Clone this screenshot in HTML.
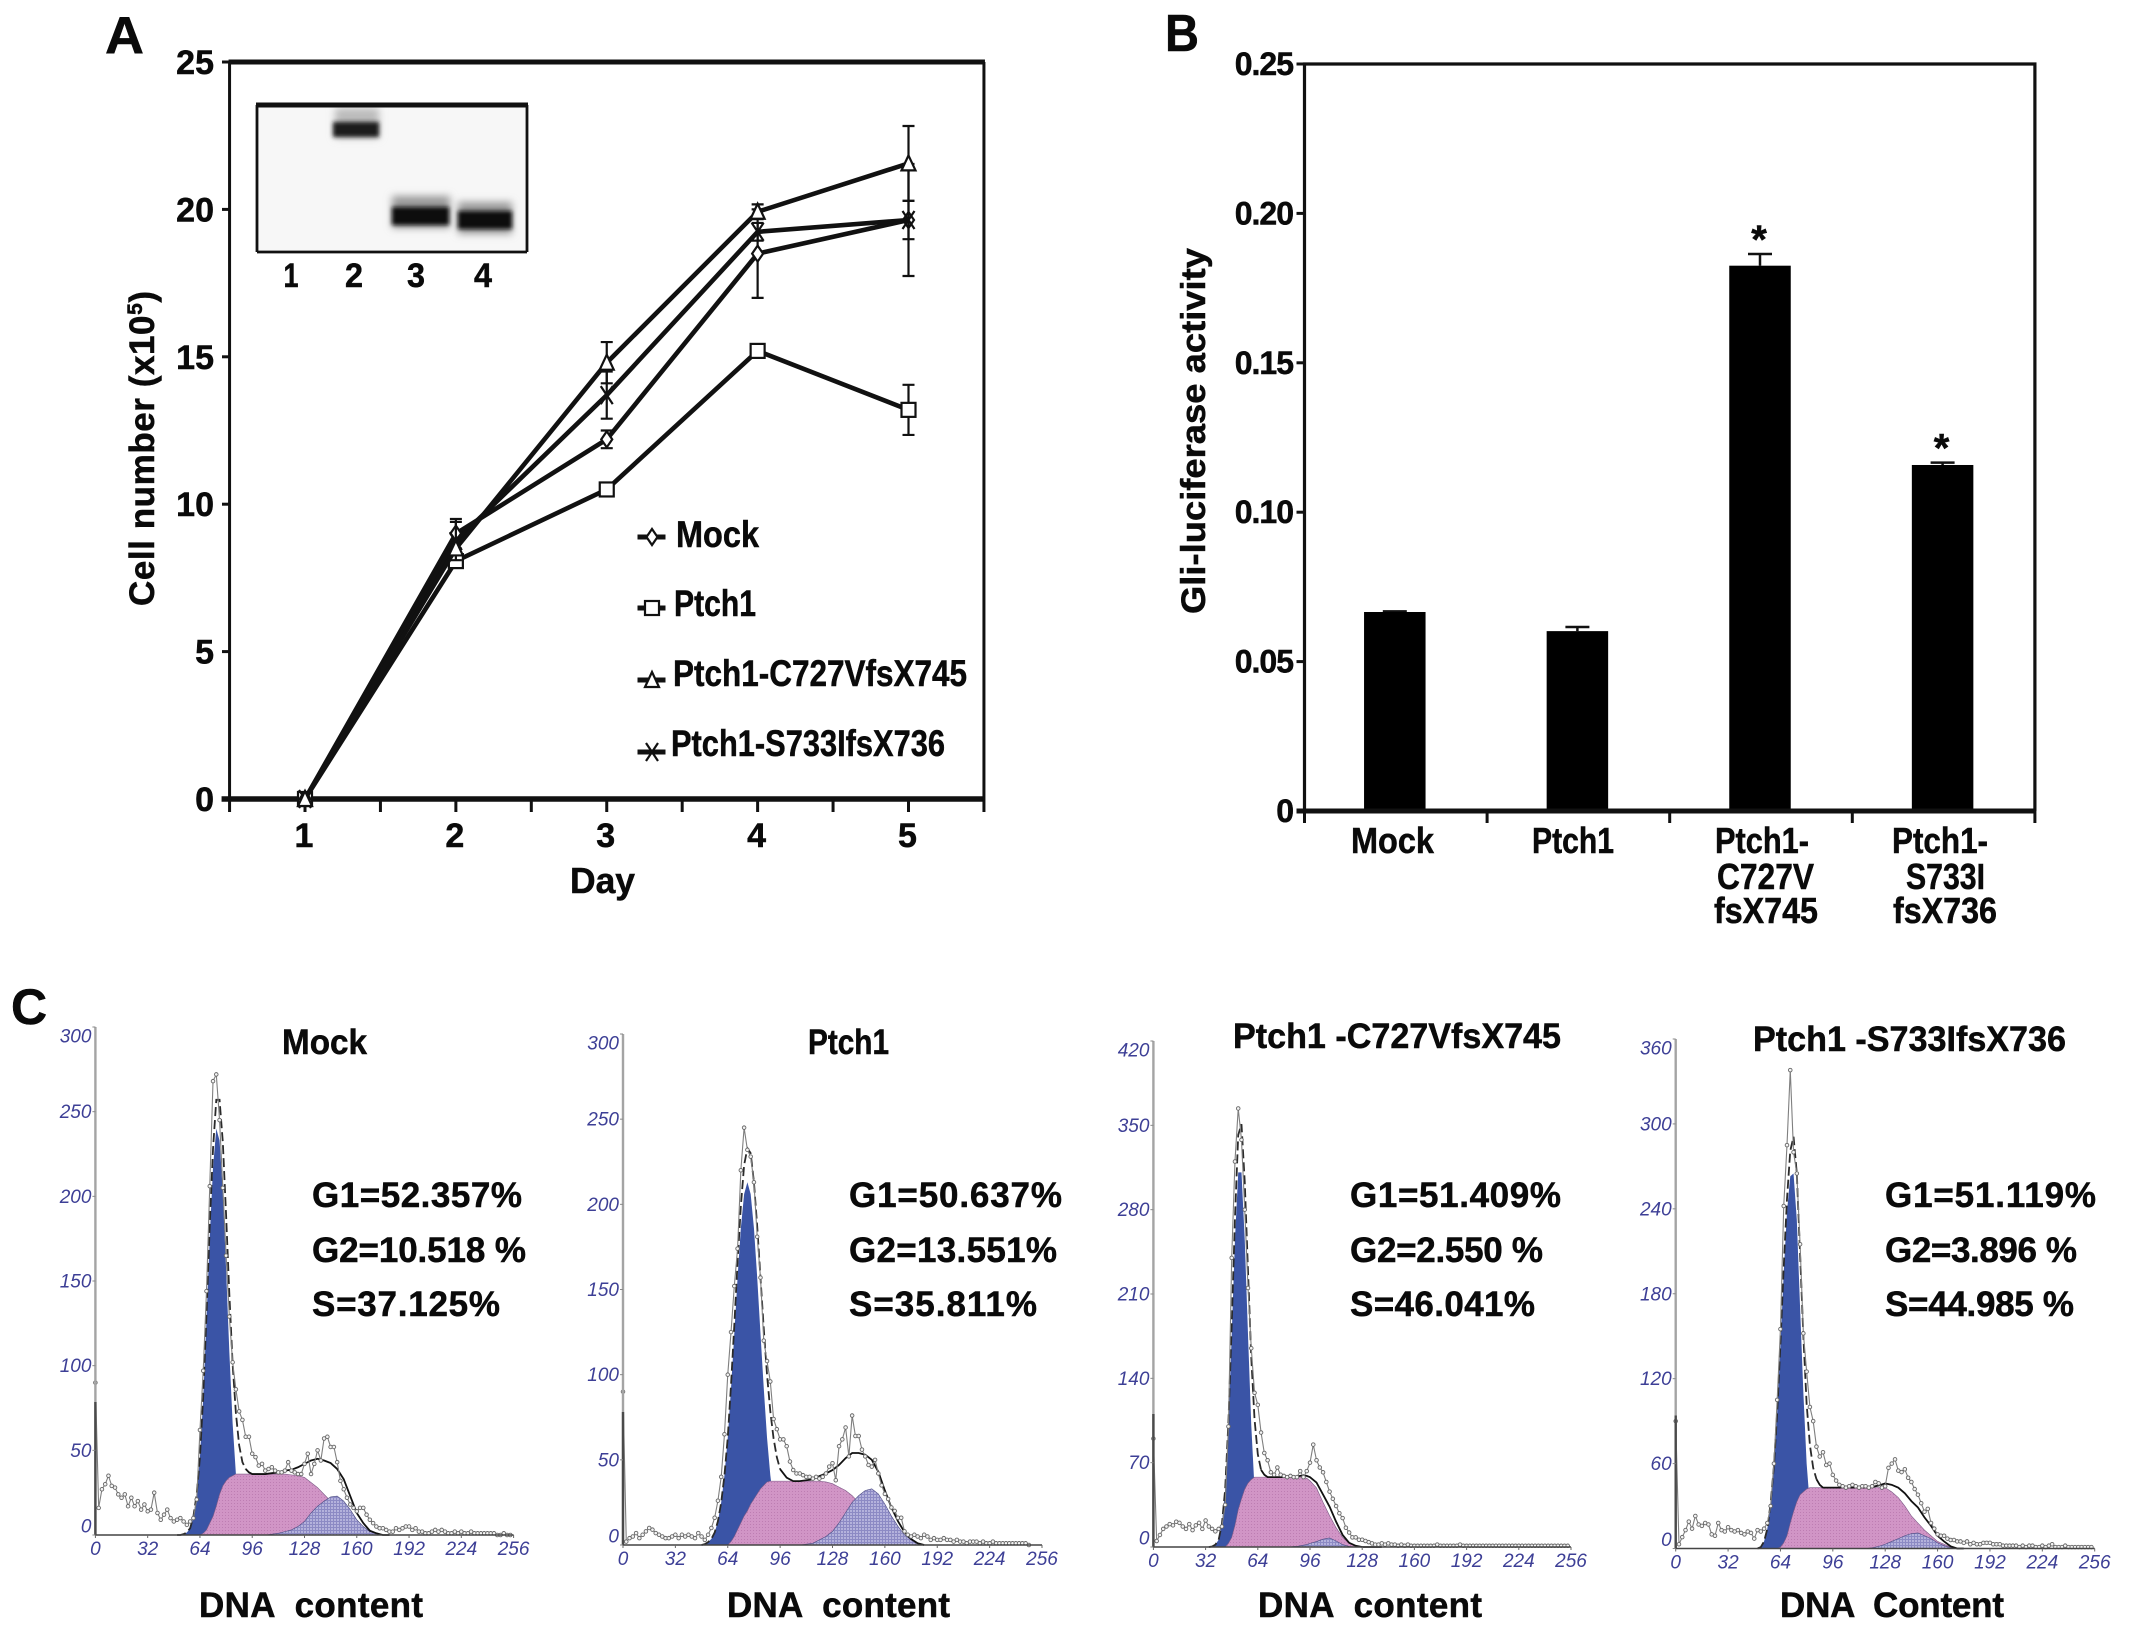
<!DOCTYPE html>
<html lang="en">
<head>
<meta charset="utf-8">
<title>Ptch1 cell growth, Gli-luciferase activity and cell cycle</title>
<style>
html,body{margin:0;padding:0;background:#fff}
svg{display:block}
text{font-family:"Liberation Sans",sans-serif;fill:#0a0a0a}
.b,text[font-weight="700"]{font-weight:700;stroke:#0a0a0a;stroke-width:.5}
.h{font-style:italic;fill:#3d3f96;font-size:19px}
</style>
</head>
<body>
<svg id="fig" xmlns="http://www.w3.org/2000/svg" width="2150" height="1630" viewBox="0 0 2150 1630">
<defs>
<filter id="gel-blur" x="-30%" y="-60%" width="160%" height="220%"><feGaussianBlur stdDeviation="2.2"/></filter>
<filter id="gel-halo" x="-30%" y="-80%" width="160%" height="260%"><feGaussianBlur stdDeviation="4"/></filter>
<clipPath id="gel-clip"><rect x="257" y="103" width="270" height="149"/></clipPath>
<pattern id="g2-hatch" width="3" height="3" patternUnits="userSpaceOnUse"><rect width="3" height="3" fill="#b4b2dc"/><path d="M0 .5H3M.5 0V3" stroke="#8c8ac4" stroke-width="1"/></pattern>
<pattern id="s-dots" width="3" height="3" patternUnits="userSpaceOnUse"><rect width="3" height="3" fill="#d195c6"/><rect width="1" height="1" fill="#bd7db2"/></pattern>
</defs>
<rect width="2150" height="1630" fill="#fff"/>

<text class="b" x="105" y="53" font-size="52" textLength="39" lengthAdjust="spacingAndGlyphs">A</text>
<text class="b" x="1165" y="51" font-size="52" textLength="34" lengthAdjust="spacingAndGlyphs">B</text>
<text class="b" x="11" y="1024" font-size="50">C</text>

<g id="panelA">
<text class="b" transform="translate(154 606) rotate(-90)" font-size="35" textLength="315">Cell number (x10<tspan font-size="21" dy="-12">5</tspan><tspan dy="12">)</tspan></text>
<text class="b" x="570" y="893" font-size="36" textLength="65" lengthAdjust="spacingAndGlyphs">Day</text>
<g>
<rect x="257" y="103" width="270" height="149" fill="#f7f7f7"/>
<g clip-path="url(#gel-clip)">
<rect x="335" y="108" width="44" height="30" fill="#bbb" filter="url(#gel-halo)"/>
<rect x="333" y="122" width="46" height="15" fill="#1c1c1c" filter="url(#gel-blur)"/>
<rect x="392" y="196" width="58" height="32" fill="#999" filter="url(#gel-halo)"/>
<rect x="392" y="207" width="57" height="18" fill="#0d0d0d" filter="url(#gel-blur)"/>
<rect x="458" y="202" width="54" height="32" fill="#999" filter="url(#gel-halo)"/>
<rect x="458" y="211" width="54" height="18" fill="#0d0d0d" filter="url(#gel-blur)"/>
</g>
<path d="M257 252V105M527 105V252M257 252H527" fill="none" stroke="#111" stroke-width="2.8"/>
<path d="M256 105H528" fill="none" stroke="#111" stroke-width="5"/>
<text class="b" x="291" y="287" font-size="34" text-anchor="middle" textLength="15" lengthAdjust="spacingAndGlyphs">1</text>
<text class="b" x="354" y="287" font-size="34" text-anchor="middle" textLength="18" lengthAdjust="spacingAndGlyphs">2</text>
<text class="b" x="416" y="287" font-size="34" text-anchor="middle" textLength="18" lengthAdjust="spacingAndGlyphs">3</text>
<text class="b" x="483" y="287" font-size="34" text-anchor="middle" textLength="18" lengthAdjust="spacingAndGlyphs">4</text>
</g>
<g>
<text class="b" x="676" y="547" font-size="37" textLength="83" lengthAdjust="spacingAndGlyphs">Mock</text>
<text class="b" x="674" y="616" font-size="37" textLength="82" lengthAdjust="spacingAndGlyphs">Ptch1</text>
<text class="b" x="673" y="686" font-size="37" textLength="294" lengthAdjust="spacingAndGlyphs">Ptch1-C727VfsX745</text>
<text class="b" x="671" y="756" font-size="37" textLength="274" lengthAdjust="spacingAndGlyphs">Ptch1-S733IfsX736</text>
</g>
</g>

<g id="panelB">
<text class="b" transform="translate(1205 614) rotate(-90)" font-size="34" textLength="366" lengthAdjust="spacingAndGlyphs">Gli-luciferase activity</text>
<text class="b" x="1351" y="853" font-size="36" textLength="83" lengthAdjust="spacingAndGlyphs">Mock</text>
<text class="b" x="1532" y="853" font-size="36" textLength="82" lengthAdjust="spacingAndGlyphs">Ptch1</text>
<g>
<text class="b" x="1715" y="853" font-size="36" textLength="94" lengthAdjust="spacingAndGlyphs">Ptch1-</text>
<text class="b" x="1717" y="889" font-size="36" textLength="97" lengthAdjust="spacingAndGlyphs">C727V</text>
<text class="b" x="1714" y="923" font-size="36" textLength="104" lengthAdjust="spacingAndGlyphs">fsX745</text>
</g>
<g>
<text class="b" x="1892" y="853" font-size="36" textLength="96" lengthAdjust="spacingAndGlyphs">Ptch1-</text>
<text class="b" x="1906" y="889" font-size="36" textLength="79" lengthAdjust="spacingAndGlyphs">S733I</text>
<text class="b" x="1893" y="923" font-size="36" textLength="104" lengthAdjust="spacingAndGlyphs">fsX736</text>
</g>
</g>

<g id="panelC"></g>
</svg>

<script>
/* ---------- Panel A data ---------- */
const dayCategories = [1, 2, 3, 4, 5];
const dayMinorTicks = [0.5, 1.5, 2.5, 3.5, 4.5, 5.5];
const cellTickLabels = [0, 5, 10, 15, 20, 25];
const mockCells = [0, 9.0, 12.2, 18.5, 19.64];
const ptch1Cells = [0, 8.07, 10.5, 15.2, 13.2];
const c727Cells = [0, 8.5, 14.8, 19.92, 21.56];
const s733Cells = [0, 8.75, 13.7, 19.24, 19.64];
const mockCellErr = [0, 0.5, 0.3, 1.5, 1.9];
const ptch1CellErr = [0, 0.1, 0.1, 0.1, 0.85];
const c727CellErr = [0, 0.2, 0.7, 0.25, 1.27];
const s733CellErr = [0, 0.65, 0.8, 0.3, 0.65];

/* ---------- Panel B data ---------- */
const lucCategories = ['Mock', 'Ptch1', 'Ptch1-C727VfsX745', 'Ptch1-S733IfsX736'];
const lucValues = [0.0666, 0.0602, 0.1825, 0.1158];
const lucErrors = [0.0002, 0.0014, 0.0039, 0.0008];
const lucSignificant = [false, false, true, true];
const lucTickLabels = ['0', '0.05', '0.10', '0.15', '0.20', '0.25'];
const lucTickValues = [0, 0.05, 0.10, 0.15, 0.20, 0.25];

/* ---------- Panel C data ---------- */
const channelTicks = [0, 32, 64, 96, 128, 160, 192, 224, 256];
const mockCountTicks = [0, 50, 100, 150, 200, 250, 300];
const ptch1CountTicks = [0, 50, 100, 150, 200, 250, 300];
const c727CountTicks = [0, 70, 140, 210, 280, 350, 420];
const s733CountTicks = [0, 60, 120, 180, 240, 300, 360];

/* raw histogram counts, one per every second channel starting at channel 0 */
const mockCounts = [90,16,27,30,35,29,28,24,22,24,17,22,17,20,15,18,14,15,25,13,9,12,15,10,8,9,10,8,6,8,10,21,62,97,144,206,268,272,245,205,165,129,102,86,73,68,58,58,48,46,41,42,38,39,40,38,37,37,38,43,38,37,36,36,42,48,36,42,50,44,57,58,52,52,43,32,27,22,18,16,14,16,16,12,9,7,5,4,4,3,2,2,4,3,4,5,5,3,4,2,2,1,1,2,3,2,3,2,1,1,2,1,2,1,1,2,1,1,1,1,1,1,1,0,0,1,0,0];
const ptch1Counts = [90,2,4,5,7,4,6,8,10,9,7,6,5,4,4,5,6,4,6,5,6,5,4,7,5,3,6,10,16,26,40,65,100,125,152,174,220,245,232,228,213,181,157,120,108,96,74,68,62,62,58,49,44,42,42,41,40,40,39,40,39,40,42,46,48,38,58,62,69,52,76,64,64,56,52,47,46,50,42,35,30,27,22,20,16,16,8,6,5,6,5,4,6,5,3,4,3,3,4,3,3,2,3,2,2,1,2,2,2,1,2,1,1,2,1,1,1,1,1,1,1,1,1,1,0];
const c727Counts = [90,5,10,15,17,19,18,21,20,17,15,19,14,18,20,15,22,17,15,13,15,17,35,100,240,320,364,338,280,215,165,128,118,95,78,72,62,60,66,60,59,58,59,58,58,63,58,63,70,85,72,66,62,54,46,40,34,28,24,16,12,8,8,6,6,5,4,3,2,2,3,2,3,2,2,1,2,1,2,1,1,1,1,1,1,1,1,2,1,1,1,1,1,1,2,1,1,1,1,1,1,1,1,1,1,1,1,1,1,1,1,1,1,1,1,1,1,1,1,1,1,1,1,1,1,1,1,1];
const s733Counts = [90,3,8,13,19,14,23,17,16,18,17,10,9,18,13,12,15,13,12,13,11,10,12,11,7,13,12,14,18,30,60,105,155,242,285,338,280,265,215,152,125,100,90,72,65,68,59,60,52,48,45,44,43,44,45,44,43,44,44,43,44,47,46,43,44,57,60,63,55,54,56,50,47,42,38,32,26,28,18,14,10,9,9,7,6,6,5,5,4,5,3,4,3,3,4,4,4,3,3,3,2,2,2,2,2,1,2,1,2,2,1,1,2,1,2,3,1,1,1,2,1,1,1,1,1,1,1,1];

/* fitted components */
const mockFitChannels = [50,52,54,56,58,60,62,64,66,68,70,72,74,76,78,80,82,84,86,88,90,92,94,96,100,104,108,112,116,120,124,128,132,136,140,144,148,152,156,160,164,168,172,176,180];
const mockG1 = [0,0,.5,1.5,4,11,24,46,81,127,176,217,240,233,203,157,108,66,36,17,7,3,1,0,0,0,0,0,0,0,0,0,0,0,0,0,0,0,0,0,0,0,0,0,0];
const mockS = [0,0,0,0,0,0,0,0,1,3,7,11,17,24,29,32,34,35,36,36,36,36,36,36,36,36,36,36,36,35.5,35,34,31,28,24,20,16,13,8,4,2,.5,0,0,0];
const mockG2 = [0,0,0,0,0,0,0,0,0,0,0,0,0,0,0,0,0,0,0,0,0,0,0,0,0,0,.5,1,2,3,5,8,13,17,20,22.5,23,20,15,9,5,2,1,0,0];

const ptch1FitChannels = [48,50,52,54,56,58,60,62,64,66,68,70,72,74,76,78,80,82,84,86,88,90,92,94,96,100,104,108,112,116,120,124,128,132,136,140,144,148,152,156,160,164,168,172,176,180,184];
const ptch1G1 = [0,.5,1.7,3.6,7.3,14,25,41,63,92,124,157,186,206,213,206,186,157,124,92,63,41,25,14,7,2,0,0,0,0,0,0,0,0,0,0,0,0,0,0,0,0,0,0,0,0,0];
const ptch1S = [0,0,0,0,0,0,0,0,0,2,5,9,13,17,20,24,27,30,33,35,37,37.5,37.5,37.5,37.5,37.5,37.5,37.5,37.5,37.5,37.5,37,36,34,32,29,25,21,17,13,8,5,3,1.5,.5,0,0];
const ptch1G2 = [0,0,0,0,0,0,0,0,0,0,0,0,0,0,0,0,0,0,0,0,0,0,0,0,0,0,0,0,.5,1,3,5,8,13,19,25,29,32,33,30,24,17,11,6,3,1,0];

const c727FitChannels = [34,36,38,40,42,44,46,48,50,52,54,56,58,60,62,64,66,68,70,72,74,76,78,80,82,84,86,88,90,92,94,96,100,104,108,112,116,120,124,128,132,136,140];
const c727G1 = [0,.4,2,6,19,48,101,176,255,311,311,255,176,101,48,19,6,2,0,0,0,0,0,0,0,0,0,0,0,0,0,0,0,0,0,0,0,0,0,0,0,0,0];
const c727S = [0,0,0,0,0,0,3,8,18,31,40,48,53,56,58,58,58,58,58,58,58,58,58,58,58,58,58,58,58,58,57,55,49,37,26,16,8,3,1,0,0,0,0];
const c727G2 = [0,0,0,0,0,0,0,0,0,0,0,0,0,0,0,0,0,0,0,0,0,0,0,0,0,0,.5,.5,1,1.5,2,3,4.5,6.5,7.5,5,2,.5,0,0,0,0,0];

const s733FitChannels = [50,52,54,56,58,60,62,64,66,68,70,72,74,76,78,80,82,84,86,88,90,92,94,96,100,104,108,112,116,120,124,128,132,136,140,144,148,152,156,160,164,168,172,176];
const s733G1 = [0,1,5,14,32,58,96,144,195,238,263,265,232,170,110,60,30,14,6,2,0,0,0,0,0,0,0,0,0,0,0,0,0,0,0,0,0,0,0,0,0,0,0,0];
const s733S = [0,0,0,0,0,0,0,1,4,9,18,26,33,38,40,42,43,43,43,43,43,43,43,43,43,43,43,43,43,43,43,43,40,36,30,23,18,13,9,5,3,1,0,0];
const s733G2 = [0,0,0,0,0,0,0,0,0,0,0,0,0,0,0,0,0,0,0,0,0,0,0,0,0,0,0,0,0,.5,1.5,3,5,7,9,10.5,11,9,7,4,2,.5,0,0];

/* ---------- helpers ---------- */
const NS = 'http://www.w3.org/2000/svg';
function mk(parent, tag, attrs, txt) {
  const el = document.createElementNS(NS, tag);
  for (const k in attrs) el.setAttribute(k, attrs[k]);
  if (txt !== undefined) el.textContent = txt;
  parent.appendChild(el);
  return el;
}
function linear(d0, d1, r0, r1) {
  return v => r0 + (v - d0) / (d1 - d0) * (r1 - r0);
}

function drawMarker(parent, shape, x, y, sw) {
  let m;
  if (shape === 'square') {
    m = mk(parent, 'rect', {x: x - 7, y: y - 7, width: 14, height: 14, fill: '#fff', stroke: '#111', 'stroke-width': sw});
  } else if (shape === 'diamond') {
    m = mk(parent, 'polygon', {points: `${x},${y - 8} ${x + 5.5},${y} ${x},${y + 8} ${x - 5.5},${y}`, fill: '#fff', stroke: '#111', 'stroke-width': sw});
  } else if (shape === 'triangle') {
    m = mk(parent, 'polygon', {points: `${x},${y - 8} ${x + 7},${y + 7} ${x - 7},${y + 7}`, fill: '#fff', stroke: '#111', 'stroke-width': sw});
  } else {
    m = mk(parent, 'path', {d: `M${x - 6} ${y - 9}L${x + 6} ${y + 9}M${x + 6} ${y - 9}L${x - 6} ${y + 9}`, fill: 'none', stroke: '#111', 'stroke-width': sw});
  }
  
  
  return m;
}

/* ---------- Panel A ---------- */
(function () {
  const g = document.getElementById('panelA');
  const xA = linear(1, 5, 305, 908.5);
  const yA = linear(0, 25, 799, 62);

  const frame = mk(g, 'path', {d: `M${xA(0.5)} ${yA(25)}V${yA(0)}M${xA(5.5)} ${yA(25)}V${yA(0)}`, stroke: '#111', 'stroke-width': 3, fill: 'none'});
  
  
  const topLine = mk(g, 'line', {x1: xA(0.5) - 1, x2: xA(5.5) + 1, y1: yA(25), y2: yA(25), stroke: '#111', 'stroke-width': 5});
  
  

  cellTickLabels.forEach(v => {
    const t = mk(g, 'line', {x1: 222, x2: xA(0.5), y1: yA(v), y2: yA(v), stroke: '#111', 'stroke-width': 3});
    
    
    const l = mk(g, 'text', {x: 214, y: yA(v) + 12, 'text-anchor': 'end', 'font-size': 34, 'font-weight': 700}, String(v));
    
    
  });
  dayMinorTicks.forEach(d => {
    const t = mk(g, 'line', {x1: xA(d), x2: xA(d), y1: yA(0), y2: 812, stroke: '#111', 'stroke-width': 3});
    
    
  });
  dayCategories.forEach(d => {
    const t = mk(g, 'line', {x1: xA(d), x2: xA(d), y1: yA(0), y2: 812, stroke: '#111', 'stroke-width': 3});
    
    
    const l = mk(g, 'text', {x: xA(d) - 1, y: 847, 'text-anchor': 'middle', 'font-size': 34, 'font-weight': 700}, String(d));
    
    
  });

  const series = [
    {key: 'ptch1', vals: ptch1Cells, errs: ptch1CellErr, shape: 'square', ly: 608},
    {key: 'mock', vals: mockCells, errs: mockCellErr, shape: 'diamond', ly: 537},
    {key: 's733i', vals: s733Cells, errs: s733CellErr, shape: 'cross', ly: 752},
    {key: 'c727v', vals: c727Cells, errs: c727CellErr, shape: 'triangle', ly: 680}
  ];
  series.forEach(s => {
    const sg = mk(g, 'g', {});
    
    
    const line = mk(sg, 'polyline', {points: s.vals.map((v, i) => xA(dayCategories[i]) + ',' + yA(v)).join(' '), fill: 'none', stroke: '#111', 'stroke-width': 4.6});
    
    
    s.vals.forEach((v, i) => {
      const x = xA(dayCategories[i]);
      if (s.errs[i] > 0) {
        const up = yA(v + s.errs[i]), dn = yA(v - s.errs[i]);
        const e = mk(sg, 'path', {d: `M${x} ${up}V${dn}M${x - 6} ${up}H${x + 6}M${x - 6} ${dn}H${x + 6}`, fill: 'none', stroke: '#111', 'stroke-width': 2.2});
        
        
      }
      drawMarker(sg, s.shape, x, yA(v), 2.2);
    });
    const legLine = mk(g, 'line', {x1: 637.5, x2: 665.5, y1: s.ly, y2: s.ly, stroke: '#111', 'stroke-width': 5});
    
    
    drawMarker(g, s.shape, 652, s.ly, 2.2);
  });

  const bottom = mk(g, 'line', {x1: xA(0.5) - 8, x2: xA(5.5) + 1, y1: yA(0), y2: yA(0), stroke: '#111', 'stroke-width': 5.5});
  
  
  g.insertBefore(bottom, g.children[2]);
})();

/* ---------- Panel B ---------- */
(function () {
  const g = document.getElementById('panelB');
  const yB = linear(0, 0.25, 811, 64);
  const band = 182.6, left = 1304.5, barW = 61.5;

  lucValues.forEach((v, i) => {
    const cx = left + band * (i + 0.5) - 1;
    const y = yB(v);
    const e = mk(g, 'path', {d: `M${cx} ${yB(v + lucErrors[i])}V${y}M${cx - 12} ${yB(v + lucErrors[i])}H${cx + 12}`, stroke: '#111', 'stroke-width': 2.5, fill: 'none'});
    
    
    const bar = mk(g, 'rect', {x: cx - barW / 2, y: y, width: barW, height: yB(0) - y, fill: '#000'});
    
    
    if (lucSignificant[i]) {
      const star = mk(g, 'text', {x: cx - 1, y: yB(v + lucErrors[i]) - 1, 'text-anchor': 'middle', 'font-size': 40, 'font-weight': 700}, '*');
      
      
    }
  });

  const frame = mk(g, 'path', {d: `M${left} ${yB(0)}V${yB(0.25)}H${left + band * 4}V${yB(0)}`, fill: 'none', stroke: '#111', 'stroke-width': 3.2});
  
  
  const base = mk(g, 'line', {x1: left - 8, x2: left + band * 4 + 1, y1: yB(0), y2: yB(0), stroke: '#111', 'stroke-width': 5});
  
  

  lucTickValues.forEach((v, i) => {
    const t = mk(g, 'line', {x1: left - 8, x2: left, y1: yB(v), y2: yB(v), stroke: '#111', 'stroke-width': 3});
    
    
    const l = mk(g, 'text', {x: 1293, y: yB(v) + 11, 'text-anchor': 'end', 'font-size': 32, 'font-weight': 700, 'letter-spacing': -1}, lucTickLabels[i]);
    
    
  });
  for (let i = 0; i <= lucValues.length; i++) {
    const t = mk(g, 'line', {x1: left + band * i, x2: left + band * i, y1: yB(0), y2: 823, stroke: '#111', 'stroke-width': 3});
    
    
  }
})();

/* ---------- Panel C ---------- */
(function () {
  const root = document.getElementById('panelC');
  const charts = [
    {key: 'mock', counts: mockCounts, ch: mockFitChannels, g1: mockG1, s: mockS, g2: mockG2, ticks: mockCountTicks,
     x0: 95.4, x1: 513.6, y0: 1535, yT: 1027, split: 92,
     title: 'Mock', tx: 282, tw: 85, ty: 1054, sx: 312,
     stats: ['G1=52.357%', 'G2=10.518 %', 'S=37.125%'], sw: [210, 214, 188],
     xl: 'DNA  content', xlx: 199, xlw: 224},
    {key: 'ptch1', counts: ptch1Counts, ch: ptch1FitChannels, g1: ptch1G1, s: ptch1S, g2: ptch1G2, ticks: ptch1CountTicks,
     x0: 623, x1: 1042, y0: 1545, yT: 1034, split: 96,
     title: 'Ptch1', tx: 808, tw: 81, ty: 1054, sx: 849,
     stats: ['G1=50.637%', 'G2=13.551%', 'S=35.811%'], sw: [213, 208, 188],
     xl: 'DNA  content', xlx: 727, xlw: 223},
    {key: 'c727v', counts: c727Counts, ch: c727FitChannels, g1: c727G1, s: c727S, g2: c727G2, ticks: c727CountTicks,
     x0: 1153.4, x1: 1571, y0: 1547, yT: 1041, split: 66,
     title: 'Ptch1 -C727VfsX745', tx: 1233, tw: 328, ty: 1048, sx: 1350,
     stats: ['G1=51.409%', 'G2=2.550 %', 'S=46.041%'], sw: [211, 193, 185],
     xl: 'DNA  content', xlx: 1258, xlw: 224},
    {key: 's733i', counts: s733Counts, ch: s733FitChannels, g1: s733G1, s: s733S, g2: s733G2, ticks: s733CountTicks,
     x0: 1675.7, x1: 2094.7, y0: 1548.5, yT: 1039, split: 86,
     title: 'Ptch1 -S733IfsX736', tx: 1753, tw: 313, ty: 1051, sx: 1885,
     stats: ['G1=51.119%', 'G2=3.896 %', 'S=44.985 %'], sw: [211, 192, 189],
     xl: 'DNA  Content', xlx: 1780, xlw: 224}
  ];

  charts.forEach(c => {
    const g = mk(root, 'g', {});
    
    
    const X = linear(0, 256, c.x0, c.x1);
    const Y = linear(0, c.ticks[c.ticks.length - 1], c.y0, c.yT);
    const area = arr => `${X(c.ch[0])},${Y(0)} ` + arr.map((v, i) => X(c.ch[i]) + ',' + Y(v)).join(' ') + ` ${X(c.ch[c.ch.length - 1])},${Y(0)}`;

    const blue = mk(g, 'polygon', {points: area(c.g1), fill: '#3a54a6'});
    
    
    const pink = mk(g, 'polygon', {points: area(c.s), fill: 'url(#s-dots)', stroke: '#7c5a86', 'stroke-width': 0.6});
    
    
    const hatch = mk(g, 'polygon', {points: area(c.g2), fill: 'url(#g2-hatch)', stroke: '#4a4a80', 'stroke-width': 0.6});
    
    

    const total = c.ch.map((ch, i) => [ch, c.g1[i] + c.s[i] + c.g2[i]]);
    const head = total.filter(p => p[0] <= c.split);
    const tail = total.filter(p => p[0] >= c.split);
    const dashed = mk(g, 'polyline', {points: head.map(p => X(p[0]) + ',' + Y(p[1])).join(' '), fill: 'none', stroke: '#2a2a2a', 'stroke-width': 1.8, 'stroke-dasharray': '9 4'});
    
    
    const solid = mk(g, 'polyline', {points: tail.map(p => X(p[0]) + ',' + Y(p[1])).join(' '), fill: 'none', stroke: '#111', 'stroke-width': 1.8});
    
    

    const raw = mk(g, 'polyline', {points: c.counts.map((v, i) => X(i * 2) + ',' + Y(v)).join(' '), fill: 'none', stroke: '#7f7f7f', 'stroke-width': 1.1});
    
    
    c.counts.forEach((v, i) => {
      const p = mk(g, 'circle', {cx: X(i * 2), cy: Y(v), r: 1.8, fill: '#f4f4f4', stroke: '#666', 'stroke-width': 0.9});
      
      
    });

    const yAxis = mk(g, 'line', {x1: c.x0, x2: c.x0, y1: c.yT, y2: c.y0, stroke: '#a4a4a4', 'stroke-width': 2.4});
    
    
    const yDark = mk(g, 'line', {x1: c.x0, x2: c.x0, y1: c.y0 - 133, y2: c.y0, stroke: '#4a4a4a', 'stroke-width': 2.4});
    
    
    const xAxis = mk(g, 'line', {x1: c.x0, x2: c.x1, y1: c.y0, y2: c.y0, stroke: '#444', 'stroke-width': 1.6});
    
    

    c.ticks.forEach((v, i) => {
      const t = mk(g, 'line', {x1: c.x0 - 3, x2: c.x0, y1: Y(v), y2: Y(v), stroke: '#888', 'stroke-width': 1});
      
      
      const nudge = i === 0 ? -9 : (i === c.ticks.length - 1 ? 9 : 0);
      const l = mk(g, 'text', {class: 'h', x: c.x0 - 4, y: Y(v) + 6.5 + nudge, 'text-anchor': 'end'}, String(v));
      
      
    });
    channelTicks.forEach(v => {
      const t = mk(g, 'line', {x1: X(v), x2: X(v), y1: c.y0, y2: c.y0 + 3, stroke: '#666', 'stroke-width': 1});
      
      
      const l = mk(g, 'text', {class: 'h', x: X(v), y: c.y0 + 20, 'text-anchor': 'middle'}, String(v));
      
      
    });

    const title = mk(g, 'text', {x: c.tx, y: c.ty, 'font-size': 35, 'font-weight': 700, textLength: c.tw, lengthAdjust: 'spacingAndGlyphs', 'xml:space': 'preserve'}, c.title);
    
    
    const baselines = [1207, 1262, 1316];
    c.stats.forEach((s, i) => {
      const st = mk(g, 'text', {x: c.sx, y: baselines[i], 'font-size': 35, 'font-weight': 700, textLength: c.sw[i], lengthAdjust: 'spacing'}, s);
      
      
    });
    const xl = mk(g, 'text', {x: c.xlx, y: 1617, 'font-size': 35, 'font-weight': 700, textLength: c.xlw, lengthAdjust: 'spacing', style: 'white-space:pre'}, c.xl);
    
    
  });
})();
</script>
</body>
</html>
